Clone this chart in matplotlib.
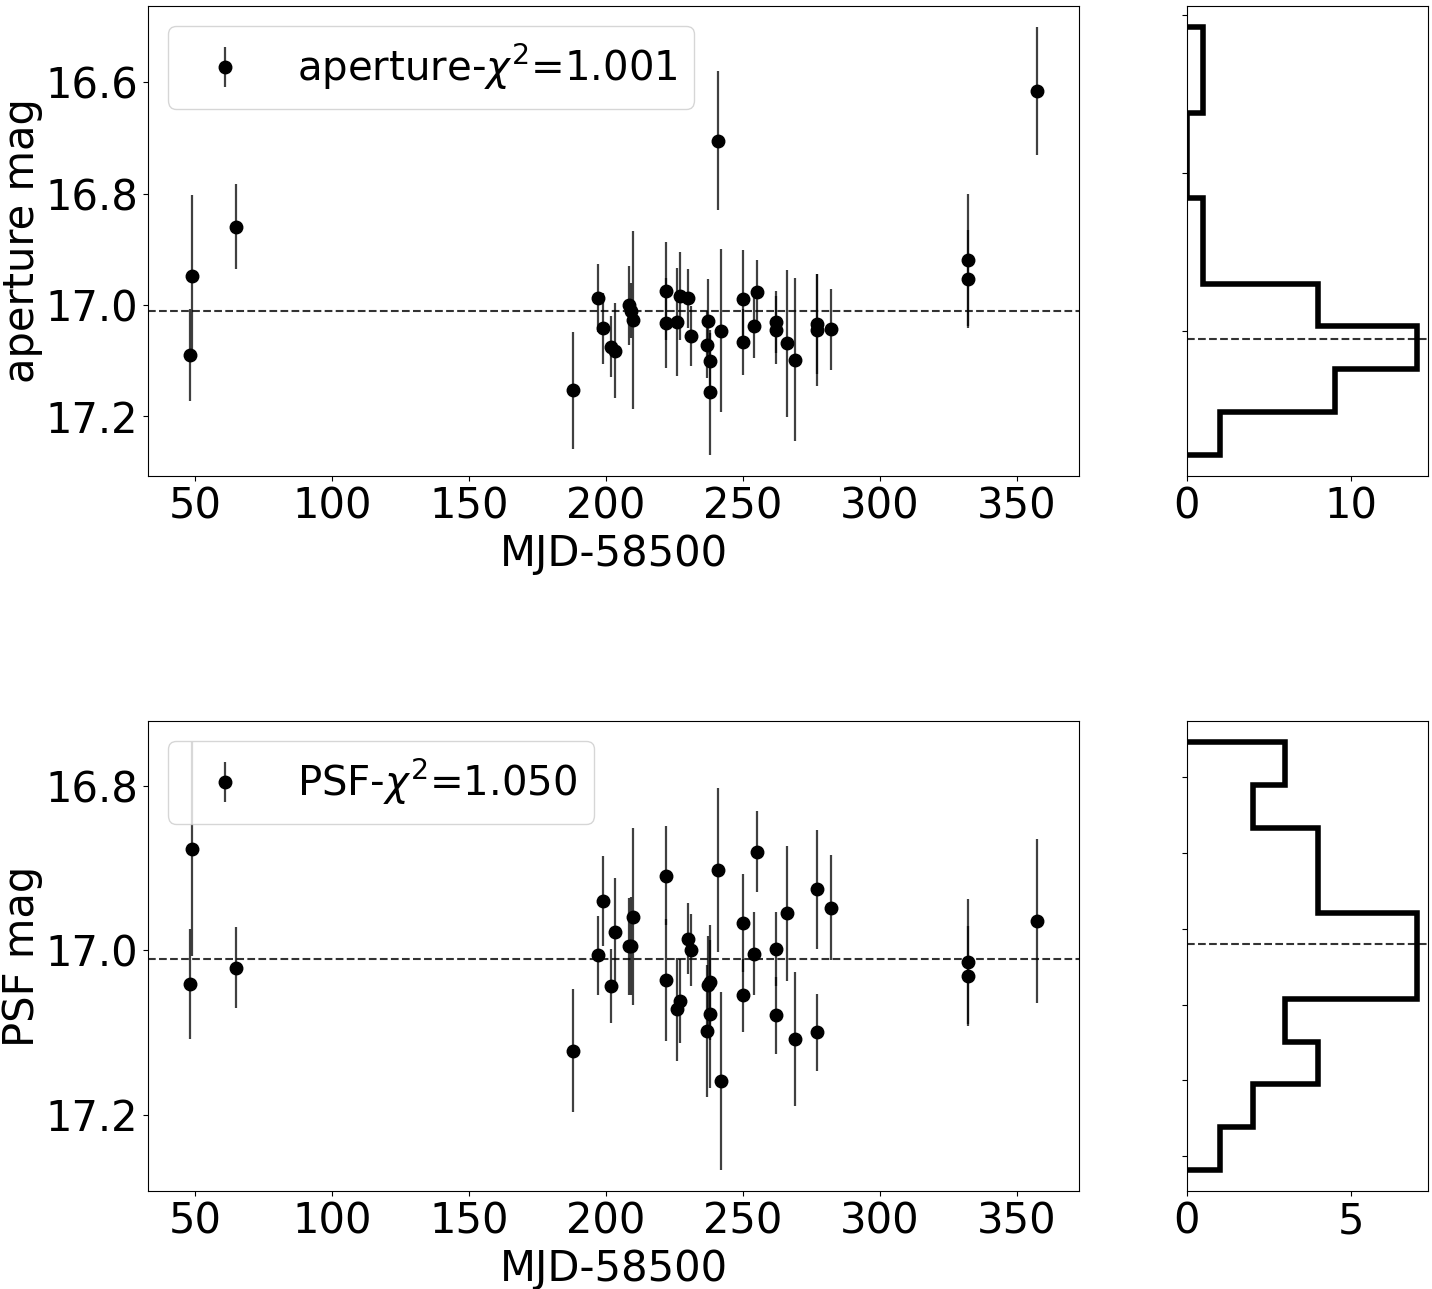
import numpy as np
import matplotlib
matplotlib.use('Agg')
import matplotlib.pyplot as plt

# --- Configuration ---
OUTPUT_PNG_PATH = 'out.png'

# --- Data ---
mjd = [48.2, 48.9, 65.0, 188.0, 197.2, 199.0, 201.8, 203.2, 208.2, 209.1,
       210.0, 221.9, 221.9, 225.9, 227.0, 230.0, 231.1, 237.2, 237.0, 238.0,
       238.0, 240.9, 242.0, 250.0, 250.0, 255.1, 254.0, 262.0, 262.0, 266.1,
       269.0, 277.0, 277.0, 282.1, 332.1, 332.1, 357.2]

aper_mag = [17.090, 16.947, 16.859, 17.153, 16.988, 17.042, 17.075, 17.082, 17.000, 17.010,
            17.027, 16.975, 17.033, 17.031, 16.984, 16.988, 17.056, 17.029, 17.071, 17.100,
            17.157, 16.705, 17.046, 16.990, 17.067, 16.977, 17.038, 17.030, 17.045, 17.069,
            17.098, 17.034, 17.045, 17.044, 16.919, 16.954, 16.616]
aper_err = [0.083, 0.145, 0.076, 0.105, 0.061, 0.064, 0.055, 0.086, 0.071, 0.050,
            0.160, 0.088, 0.081, 0.097, 0.079, 0.053, 0.054, 0.075, 0.060, 0.050,
            0.112, 0.125, 0.147, 0.089, 0.059, 0.058, 0.058, 0.056, 0.061, 0.132,
            0.147, 0.090, 0.100, 0.073, 0.119, 0.088, 0.115]

psf_mag = [17.041, 16.877, 17.021, 17.122, 17.006, 16.940, 17.043, 16.978, 16.995, 16.995,
           16.959, 16.909, 17.036, 17.072, 17.062, 16.986, 17.000, 17.042, 17.098, 17.039,
           17.077, 16.902, 17.159, 16.967, 17.055, 16.880, 17.004, 16.998, 17.079, 16.955,
           17.108, 16.926, 17.100, 16.948, 17.014, 17.031, 16.964]
psf_err = [0.067, 0.130, 0.049, 0.075, 0.048, 0.055, 0.045, 0.066, 0.059, 0.060,
           0.108, 0.060, 0.074, 0.063, 0.051, 0.043, 0.044, 0.060, 0.080, 0.070,
           0.090, 0.100, 0.108, 0.060, 0.045, 0.049, 0.051, 0.045, 0.047, 0.082,
           0.081, 0.072, 0.047, 0.064, 0.076, 0.061, 0.100]

chi2_values = [1.001, 1.050]
ref_mags = [17.01, 17.01]
panel_names = ['aperture', 'PSF']
hist_yticks = [[16.6, 16.8, 17.0], [16.9, 16.95, 17.0, 17.05, 17.1, 17.15]]
hist_xticks = [[0, 10], [0, 5]]


def draw_panel(ax_lc, ax_hist, mag, err, name, chi2, ref, yticks, xticks):
    """Light curve with error bars plus a sideways histogram of the magnitudes."""
    ax_lc.errorbar(mjd, mag, yerr=err, fmt='o', color='k', ms=9,
                   ecolor=(0, 0, 0, 0.75), elinewidth=1.6,
                   label=f'{name}-$\\chi^2$={chi2:.3f}')
    ax_lc.axhline(ref, color='k', ls='--', lw=1.5, alpha=0.8)
    ax_lc.invert_yaxis()
    ax_lc.set_xlabel('MJD-58500')
    ax_lc.set_ylabel(f'{name} mag', labelpad=2)
    ax_lc.legend(loc='upper left', fontsize=29)

    ax_hist.hist(mag, bins=10, orientation='horizontal', histtype='step',
                 color='k', lw=4)
    ax_hist.axhline(ref, color='k', ls='--', lw=1.5, alpha=0.8)
    ax_hist.invert_yaxis()
    ax_hist.set_yticks(yticks)
    ax_hist.set_xticks(xticks)
    ax_hist.tick_params(axis='y', labelleft=False)


def main():
    plt.rcParams['font.size'] = 30
    fig = plt.figure(figsize=(14.32, 12.89), dpi=100)

    mags = [aper_mag, psf_mag]
    errs = [aper_err, psf_err]
    bottoms = [0.6307, 0.0760]
    for i in range(2):
        ax_lc = fig.add_axes([0.1034, bottoms[i], 0.650, 0.3646])
        ax_hist = fig.add_axes([0.8289, bottoms[i], 0.1683, 0.3646])
        draw_panel(ax_lc, ax_hist, mags[i], errs[i], panel_names[i],
                   chi2_values[i], ref_mags[i], hist_yticks[i], hist_xticks[i])

    fig.savefig(OUTPUT_PNG_PATH, dpi=100)
    plt.close(fig)


if __name__ == "__main__":
    main()
